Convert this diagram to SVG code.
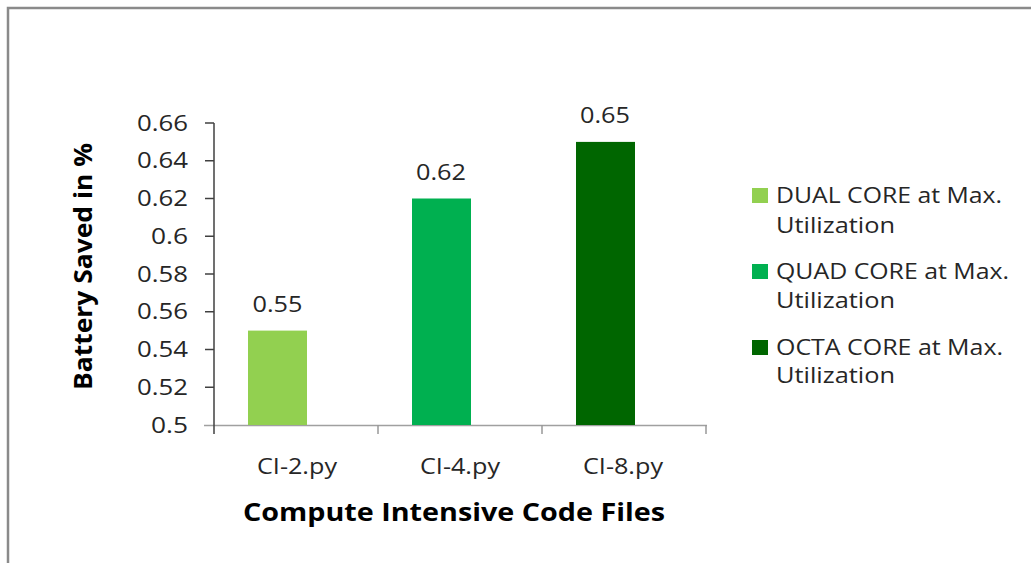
<svg xmlns="http://www.w3.org/2000/svg" width="1031" height="563" viewBox="0 0 1031 563">
<style>
text{font-family:"Open Sans","Liberation Sans",sans-serif;fill:#262626}
.tk{font-size:21px;text-anchor:end}
.dl{font-size:21px;text-anchor:middle}
.cat{font-size:21px;text-anchor:middle}
.lg{font-size:22px}
.ttl{font-size:25px;font-weight:bold;fill:#000;text-anchor:middle}
.tick{stroke:#404040;stroke-width:1.5}
.xtick{stroke:#999;stroke-width:1.5}
</style>
<rect width="1031" height="563" fill="#fff"/>
<g id="frame">
<path d="M8,563 V8 H1031" fill="none" stroke="#8a8a8a" stroke-width="2.5"/>
</g>
<g id="axes">
<line x1="204" y1="425.5" x2="707" y2="425.5" stroke="#a0a0a0" stroke-width="1.5"/>
<line x1="214" y1="123" x2="214" y2="434" stroke="#404040" stroke-width="1.5"/>
<line class="tick" x1="205" y1="123" x2="214" y2="123"/>
<line class="tick" x1="205" y1="160.75" x2="214" y2="160.75"/>
<line class="tick" x1="205" y1="198.5" x2="214" y2="198.5"/>
<line class="tick" x1="205" y1="236.25" x2="214" y2="236.25"/>
<line class="tick" x1="205" y1="274" x2="214" y2="274"/>
<line class="tick" x1="205" y1="311.75" x2="214" y2="311.75"/>
<line class="tick" x1="205" y1="349.5" x2="214" y2="349.5"/>
<line class="tick" x1="205" y1="387.25" x2="214" y2="387.25"/>
<line class="xtick" x1="378" y1="425" x2="378" y2="434"/>
<line class="xtick" x1="542" y1="425" x2="542" y2="434"/>
<line class="xtick" x1="706" y1="425" x2="706" y2="434"/>
<text class="tk" x="188" y="130.5" textLength="51" lengthAdjust="spacingAndGlyphs">0.66</text>
<text class="tk" x="188" y="168.25" textLength="51" lengthAdjust="spacingAndGlyphs">0.64</text>
<text class="tk" x="188" y="206" textLength="51" lengthAdjust="spacingAndGlyphs">0.62</text>
<text class="tk" x="188" y="243.75" textLength="37" lengthAdjust="spacingAndGlyphs">0.6</text>
<text class="tk" x="188" y="281.5" textLength="51" lengthAdjust="spacingAndGlyphs">0.58</text>
<text class="tk" x="188" y="319.25" textLength="51" lengthAdjust="spacingAndGlyphs">0.56</text>
<text class="tk" x="188" y="357" textLength="51" lengthAdjust="spacingAndGlyphs">0.54</text>
<text class="tk" x="188" y="394.75" textLength="51" lengthAdjust="spacingAndGlyphs">0.52</text>
<text class="tk" x="188" y="432.5" textLength="37" lengthAdjust="spacingAndGlyphs">0.5</text>
<text class="cat" x="297" y="474" textLength="80" lengthAdjust="spacingAndGlyphs">CI-2.py</text>
<text class="cat" x="460" y="474" textLength="80" lengthAdjust="spacingAndGlyphs">CI-4.py</text>
<text class="cat" x="623" y="474" textLength="80" lengthAdjust="spacingAndGlyphs">CI-8.py</text>
<text class="ttl" x="454" y="521" textLength="422" lengthAdjust="spacingAndGlyphs">Compute Intensive Code Files</text>
<text class="ttl" transform="translate(92,266.5) rotate(-90)" x="0" y="0" textLength="247" lengthAdjust="spacingAndGlyphs">Battery Saved in %</text>
</g>
<g id="bar-ci2">
<rect x="248" y="330.6" width="59" height="94.4" fill="#92D050"/>
<text class="dl" x="277.5" y="312" textLength="50" lengthAdjust="spacingAndGlyphs">0.55</text>
</g>
<g id="bar-ci4">
<rect x="412" y="198.5" width="59" height="226.5" fill="#00B050"/>
<text class="dl" x="441" y="180" textLength="50" lengthAdjust="spacingAndGlyphs">0.62</text>
</g>
<g id="bar-ci8">
<rect x="576" y="141.9" width="59" height="283.1" fill="#006600"/>
<text class="dl" x="605" y="123" textLength="50" lengthAdjust="spacingAndGlyphs">0.65</text>
</g>
<g id="legend">
<rect x="752" y="188" width="16" height="15" fill="#92D050"/>
<text class="lg" x="776" y="203" textLength="226" lengthAdjust="spacingAndGlyphs">DUAL CORE at Max.</text>
<text class="lg" x="776" y="233" textLength="119" lengthAdjust="spacingAndGlyphs">Utilization</text>
<rect x="752" y="264" width="16" height="15" fill="#00B050"/>
<text class="lg" x="776" y="279" textLength="233" lengthAdjust="spacingAndGlyphs">QUAD CORE at Max.</text>
<text class="lg" x="776" y="308" textLength="119" lengthAdjust="spacingAndGlyphs">Utilization</text>
<rect x="752" y="340" width="16" height="15" fill="#006600"/>
<text class="lg" x="776" y="355" textLength="227" lengthAdjust="spacingAndGlyphs">OCTA CORE at Max.</text>
<text class="lg" x="776" y="383" textLength="119" lengthAdjust="spacingAndGlyphs">Utilization</text>
</g>
</svg>
